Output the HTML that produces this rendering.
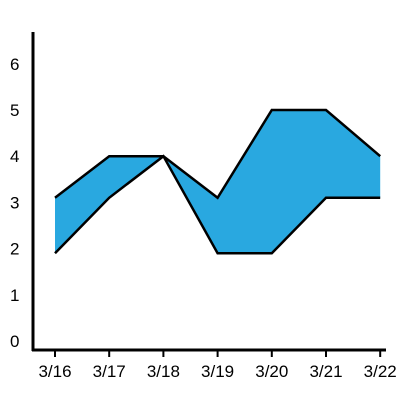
<!DOCTYPE html>
<html><head><meta charset="utf-8"><style>body{margin:0;background:#fff}svg{display:block}text{font-family:"Liberation Sans",sans-serif;font-size:17px;fill:#000}</style></head>
<body>
<svg id="chart" width="400" height="400" viewBox="0 0 400 400"></svg>
<script>
const categories=["3/16","3/17","3/18","3/19","3/20","3/21","3/22"];
const highValues=[3.1,4,4,3.1,5,5,4];
const lowValues=[1.9,3.1,4,1.9,1.9,3.1,3.1];
const yTicks=[0,1,2,3,4,5,6];
const svg=document.getElementById('chart');
const NS='http://www.w3.org/2000/svg';
const x=i=>55+i*54.2;
const y=v=>341-v*46.2;
function mk(t,a,name){const e=document.createElementNS(NS,t);for(const k in a)e.setAttribute(k,a[k]);


svg.appendChild(e);return e;}
let d=highValues.map((v,i)=>(i?'L':'M')+x(i)+','+y(v)).join('');
for(let i=lowValues.length-1;i>=0;i--)d+='L'+x(i)+','+y(lowValues[i]);
mk('path',{d:d+'Z',fill:'#29a8e0',stroke:'none'},'range-area');
mk('path',{d:highValues.map((v,i)=>(i?'L':'M')+x(i)+','+y(v)).join(''),fill:'none',stroke:'#000','stroke-width':2.5},'high-line');
mk('path',{d:lowValues.map((v,i)=>(i?'L':'M')+x(i)+','+y(v)).join(''),fill:'none',stroke:'#000','stroke-width':2.5},'low-line');
mk('line',{x1:33,y1:32,x2:33,y2:351,stroke:'#000','stroke-width':3},'y-axis');
mk('line',{x1:32,y1:350,x2:386,y2:350,stroke:'#000','stroke-width':3},'x-axis');
yTicks.forEach(t=>{const e=mk('text',{x:10,y:y(t)+6},'y-tick-label');e.textContent=t;});
categories.forEach((c,i)=>{mk('line',{x1:x(i),y1:350,x2:x(i),y2:357,stroke:'#000','stroke-width':2},'x-tick');
const e=mk('text',{x:x(i),y:377,'text-anchor':'middle'},'x-tick-label');e.textContent=c;});
</script>
</body></html>
